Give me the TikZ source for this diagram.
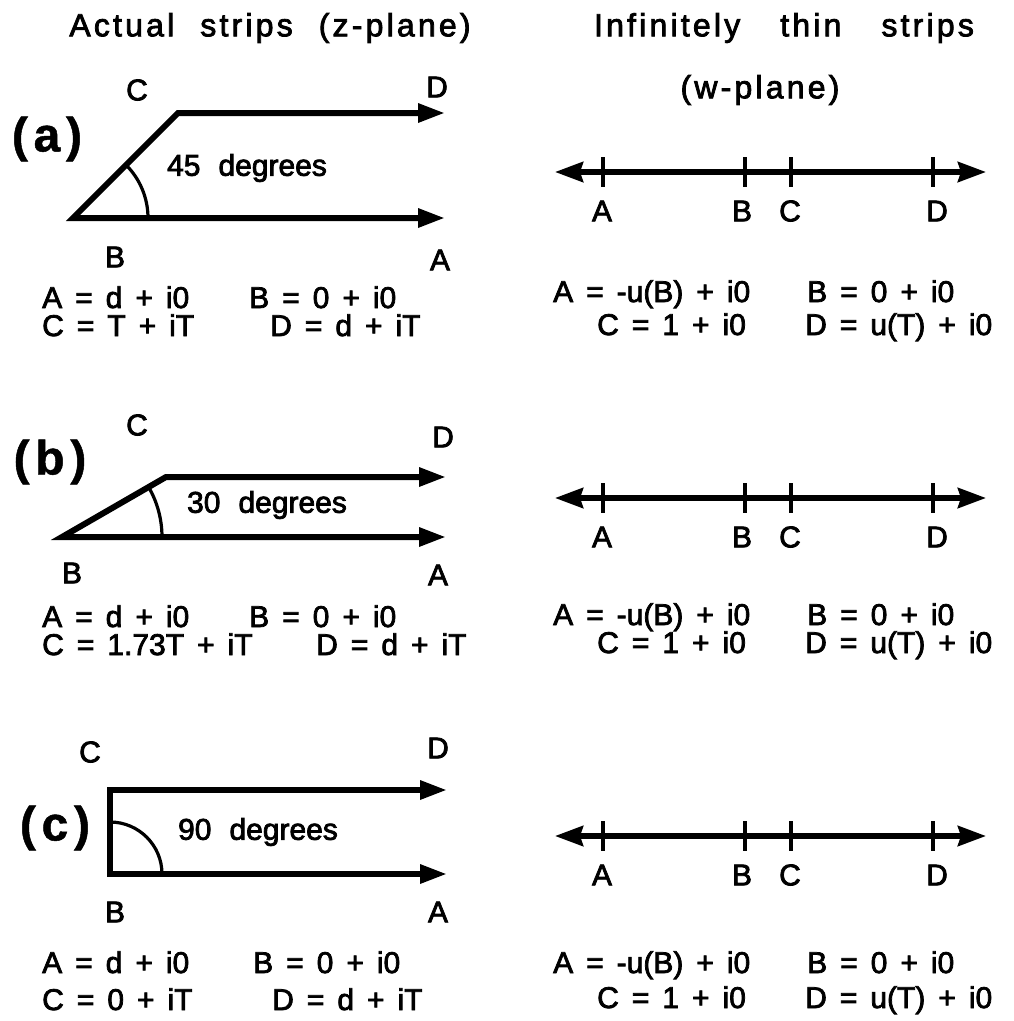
\documentclass[tikz,border=0pt]{standalone}
\usepackage{fontspec}
\setmainfont[FakeBold=2.5]{Liberation Sans}
\newfontfamily\titlefont[LetterSpace=10,FakeBold=2.5]{Liberation Sans}
\newfontfamily\partfont[LetterSpace=12,FakeBold=1]{Liberation Sans}
\usetikzlibrary{arrows.meta}
\newcommand\myttlfont{\titlefont\fontsize{32}{34}\selectfont\spaceskip=26pt\relax}
\newcommand\myttlfontb{\titlefont\fontsize{32}{34}\selectfont\spaceskip=40pt\relax}
\newcommand\myeqfont{\fontsize{30}{32}\selectfont\spaceskip=13pt\relax}
\newcommand\mydegfont{\fontsize{30}{32}\selectfont\spaceskip=18pt\relax}
\tikzset{
  strip/.style={line width=6pt, line join=miter,
    {Triangle[length=27pt,width=18pt]}-{Triangle[length=27pt,width=18pt]}},
  angarc/.style={line width=3.2pt},
  numline/.style={line width=5.5pt,
    {Stealth[length=28pt,width=20pt,inset=3pt]}-{Stealth[length=28pt,width=20pt,inset=3pt]}},
  tickmark/.style={line width=4pt},
  lbl/.style={font=\fontsize{30}{32}\selectfont, inner sep=0pt},
  eq/.style={font=\myeqfont, inner sep=0pt, anchor=base west},
  partlbl/.style={font=\partfont\fontsize{48}{50}\selectfont\bfseries, inner sep=0pt},
  deg/.style={font=\mydegfont, inner sep=0pt},
  ttl/.style={font=\myttlfont, inner sep=0pt},
  ttlb/.style={font=\myttlfontb, inner sep=0pt}
}
\begin{document}
\begin{tikzpicture}[x=1pt,y=-1pt]
\useasboundingbox[fill=white] (0,0) rectangle (1013,1021);
% titles
\node[ttl] (t1) at (270,28) {Actual strips (z-plane)};
\node[ttlb] (t2) at (784,28) {Infinitely thin strips};
\node[ttl] (t3) at (760,90) {(w-plane)};

% ---------- panel (a) ----------
\coordinate (aB) at (73,218);
\coordinate (aC) at (178,113);
\coordinate (aD) at (445,113);
\coordinate (aA) at (445,218);
\draw[strip] (aD) -- (aC) -- (aB) -- (aA);
\draw[angarc] (aB) ++(75,0) arc[start angle=0,end angle=-46,radius=75];
\node[partlbl] (pa) at (47,139) {(a)};
\node[lbl] (aCl) at (137,90) {C};
\node[lbl] (aDl) at (437,87) {D};
\node[lbl] (aBl) at (115,257) {B};
\node[lbl] (aAl) at (440,260) {A};
\node[deg] (adeg) at (247,168) {45 degrees};
\node[eq] (ae1) at (42,308) {A = d + i0};
\node[eq] (ae2) at (249,308) {B = 0 + i0};
\node[eq] (ae3) at (42,336) {C = T + iT};
\node[eq] (ae4) at (270,336) {D = d + iT};

% ---------- panel (b) ----------
\coordinate (bB) at (62,537);
\coordinate (bC) at (166,477);
\coordinate (bD) at (446,477);
\coordinate (bA) at (446,537);
\draw[strip] (bD) -- (bC) -- (bB) -- (bA);
\draw[angarc] (bB) ++(100,0) arc[start angle=0,end angle=-30,radius=100];
\node[partlbl] (pb) at (50,462) {(b)};
\node[lbl] (bCl) at (137,425) {C};
\node[lbl] (bDl) at (443,437) {D};
\node[lbl] (bBl) at (72,573) {B};
\node[lbl] (bAl) at (438,575) {A};
\node[deg] (bdeg) at (267,505) {30 degrees};
\node[eq] (be1) at (42,627) {A = d + i0};
\node[eq] (be2) at (249,627) {B = 0 + i0};
\node[eq] (be3) at (42,655) {C = 1.73T + iT};
\node[eq] (be4) at (316,655) {D = d + iT};

% ---------- panel (c) ----------
\coordinate (cB) at (110,874);
\coordinate (cC) at (110,790);
\coordinate (cD) at (447,790);
\coordinate (cA) at (447,874);
\draw[strip] (cD) -- (cC) -- (cB) -- (cA);
\draw[angarc] (cB) ++(52,0) arc[start angle=0,end angle=-90,radius=52];
\node[partlbl] (pc) at (55,828) {(c)};
\node[lbl] (cCl) at (90,752) {C};
\node[lbl] (cDl) at (438,748) {D};
\node[lbl] (cBl) at (115,912) {B};
\node[lbl] (cAl) at (438,912) {A};
\node[deg] (cdeg) at (258,832) {90 degrees};
\node[eq] (ce1) at (42,973) {A = d + i0};
\node[eq] (ce2) at (253,973) {B = 0 + i0};
\node[eq] (ce3) at (42,1010) {C = 0 + iT};
\node[eq] (ce4) at (272,1010) {D = d + iT};

% ---------- number lines (w-plane) ----------
\foreach \y/\s in {172/a,498/b,836/c}{
  \coordinate (\s L) at (555,\y);
  \coordinate (\s R) at (986,\y);
  \draw[numline] (\s L) -- (\s R);
  \foreach \x/\t in {603/A,745/B,791/C,933/D}{
    \coordinate (\s t\t top) at (\x,\y-15);
    \coordinate (\s t\t bot) at (\x,\y+15);
    \draw[tickmark] (\s t\t top) -- (\s t\t bot);
  }
  \node[lbl] (\s wA) at (602,\y+39) {A};
  \node[lbl] (\s wB) at (742,\y+39) {B};
  \node[lbl] (\s wC) at (790,\y+39) {C};
  \node[lbl] (\s wD) at (937,\y+39) {D};
}
% w-plane equations
\foreach \s/\ya/\yb in {a/302/335, b/625/653, c/973/1008}{
  \node[eq] (\s w1) at (553,\ya) {A = -u(B) + i0};
  \node[eq] (\s w2) at (807,\ya) {B = 0 + i0};
  \node[eq] (\s w3) at (597,\yb) {C = 1 + i0};
  \node[eq] (\s w4) at (805,\yb) {D = u(T) + i0};
}
\end{tikzpicture}
\end{document}
